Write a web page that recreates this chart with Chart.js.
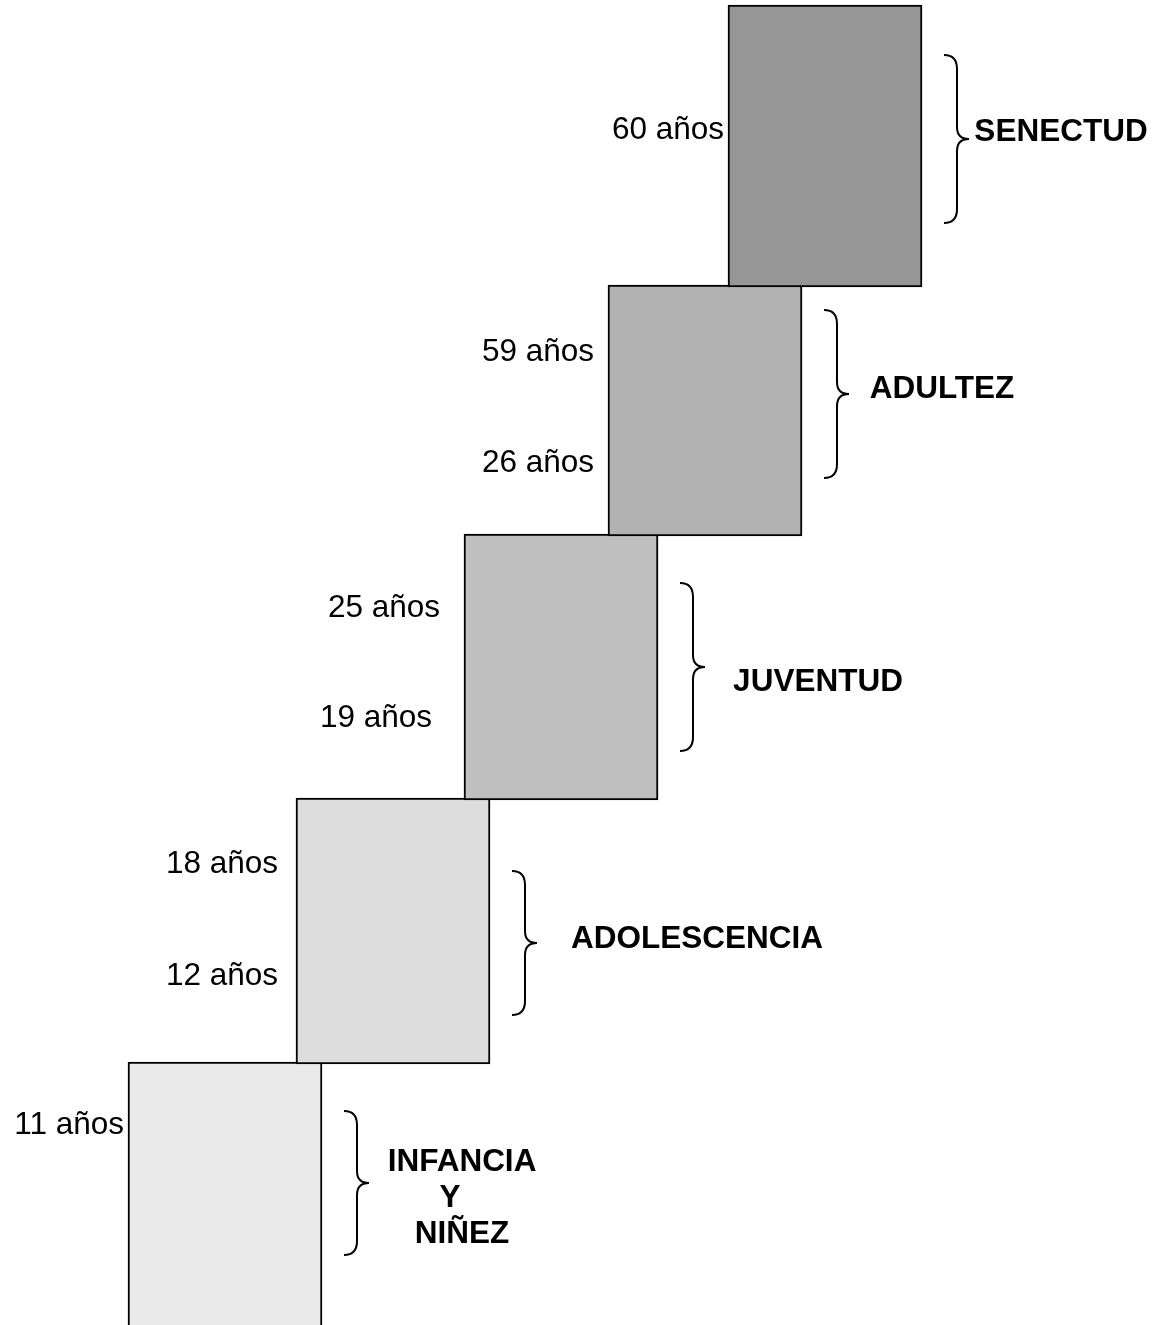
<!DOCTYPE html>
<html>
<head>
<meta charset="utf-8">
<title>Etapas de la vida</title>
<script src="https://cdn.jsdelivr.net/npm/chart.js@4/dist/chart.umd.min.js"></script>
<style>
  html, body { margin: 0; padding: 0; background: #fff; }
  canvas { display: block; }
</style>
</head>
<body>
<canvas id="steps" width="1153" height="1325"></canvas>
<script>

// stages, bottom step first
const stageNames = [['INFANCIA', 'Y', 'NIÑEZ'], ['ADOLESCENCIA'], ['JUVENTUD'], ['ADULTEZ'], ['SENECTUD']];
const upperAge = ['11 años', '18 años', '25 años', '59 años', '60 años'];
const lowerAge = [null, '12 años', '19 años', '26 años', null];

// step boxes (diagram units, y grows upward)
const stepCenter = [225, 393, 561, 705, 825];
const stepBottom = [-10, 262, 526, 790, 1039];
const stepTop = [262, 526, 790, 1039, 1319];

// braces next to each step
const braceTop = [214, 454, 742, 1015, 1270];
const braceBottom = [70, 310, 574, 847, 1102];

const stepColors = ['#eaeaea', '#dddddd', '#c0c0c0', '#b2b2b2', '#969696'];

// text anchors (diagram units)
const upperAgeX = [124, 278, 440, 594, 724];
const upperAgeY = [191, 452, 708, 964, 1186];
const lowerAgeX = [null, 278, 432, 594, null];
const lowerAgeY = [null, 340, 598, 853, null];
const nameX = [462, 697, 818, 942, 1061];
const nameY = [154, 377, 634, 927, 1184];

const FONT = '"Liberation Sans", Arial, sans-serif';
const halfStep = 96;     // half width between edge lines
const braceGap = 23;
const lineGap = 36;


const bracesPlugin = {
    id: 'braces',
    afterDatasetsDraw(chart) {
        const ctx = chart.ctx;
        const x = chart.scales.x, y = chart.scales.y;
        ctx.save();
        ctx.strokeStyle = '#000';
        ctx.lineWidth = 2;
        stepCenter.forEach((c, i) => {
            const l = x.getPixelForValue(c + halfStep + braceGap);
            const t = y.getPixelForValue(braceTop[i]);
            const b = y.getPixelForValue(braceBottom[i]);
            const m = (t + b) / 2;
            const v = l + 13, tip = l + 25;
            ctx.beginPath();
            ctx.moveTo(l, t);
            ctx.quadraticCurveTo(v, t, v, t + 14);
            ctx.lineTo(v, m - 12);
            ctx.quadraticCurveTo(v, m, tip, m);
            ctx.quadraticCurveTo(v, m, v, m + 12);
            ctx.lineTo(v, b - 14);
            ctx.quadraticCurveTo(v, b, l, b);
            ctx.stroke();
        });
        ctx.restore();
    }
};

const labelsPlugin = {
    id: 'stageLabels',
    afterDatasetsDraw(chart) {
        const ctx = chart.ctx;
        const x = chart.scales.x, y = chart.scales.y;
        ctx.save();
        ctx.fillStyle = '#000';
        ctx.textBaseline = 'alphabetic';

        // ages
        ctx.font = '31.5px ' + FONT;
        ctx.textAlign = 'right';
        upperAge.forEach((t, i) => {
            ctx.fillText(t, x.getPixelForValue(upperAgeX[i]), y.getPixelForValue(upperAgeY[i]));
        });
        lowerAge.forEach((t, i) => {
            if (!t) return;
            ctx.fillText(t, x.getPixelForValue(lowerAgeX[i]), y.getPixelForValue(lowerAgeY[i]));
        });

        // stage names
        ctx.font = 'bold 31.5px ' + FONT;
        ctx.textAlign = 'center';
        stageNames.forEach((lines, i) => {
            lines.forEach((t, k) => {
                let px = x.getPixelForValue(nameX[i]);
                if (t === 'Y') px -= 12;
                ctx.fillText(t, px, y.getPixelForValue(nameY[i]) + k * lineGap);
            });
        });
        ctx.restore();
    }
};


new Chart(document.getElementById('steps'), {
    type: 'bar',
    data: {
        datasets: [{
            data: stepCenter.map((c, i) => ({ x: c, y: [stepBottom[i] - 1, stepTop[i] + 1] })),
            backgroundColor: stepColors,
            borderColor: '#000',
            borderWidth: 2,
            borderSkipped: false,
            barThickness: 194
        }]
    },
    options: {
        responsive: false,
        animation: false,
        layout: { padding: 0 },
        plugins: {
            legend: { display: false },
            tooltip: { enabled: false }
        },
        scales: {
            x: { type: 'linear', min: 0, max: 1153, offset: false, display: false },
            y: { type: 'linear', min: 0, max: 1325, display: false }
        }
    },
    plugins: [bracesPlugin, labelsPlugin]
});
</script>
</body>
</html>
